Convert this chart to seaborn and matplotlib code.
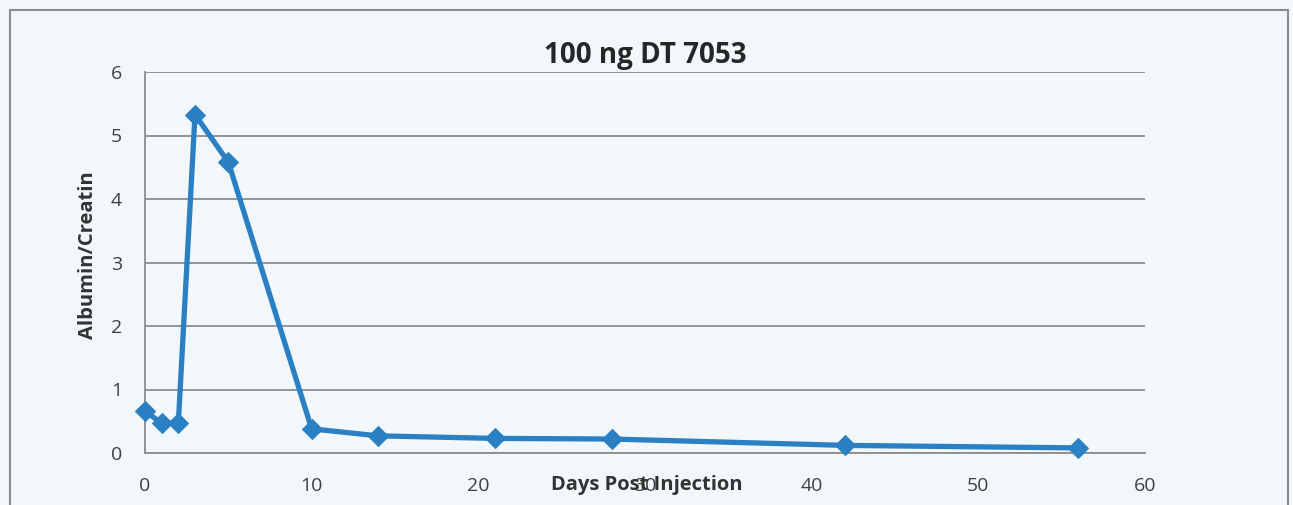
import pandas as pd
import matplotlib.pyplot as plt
import matplotlib.patches as mpatches
import seaborn as sns

# Data
days = [0, 1, 2, 3, 5, 10, 14, 21, 28, 42, 56]
ratio = [0.66, 0.47, 0.47, 5.33, 4.58, 0.38, 0.27, 0.23, 0.22, 0.12, 0.08]
x_ticks = [0, 10, 20, 30, 40, 50, 60]
y_ticks = [0, 1, 2, 3, 4, 5, 6]

df = pd.DataFrame({'Days': days, 'Ratio': ratio})

sns.set_style('white')
plt.rcParams['font.family'] = ['Open Sans', 'DejaVu Sans']

fig = plt.figure(figsize=(12.93, 5.05), dpi=100)
fig.patch.set_facecolor('#f1f7fa')
ax = fig.add_axes([145 / 1293, 52 / 505, 1000 / 1293, 381 / 505])
ax.set_facecolor('none')

sns.lineplot(x='Days', y='Ratio', data=df, ax=ax, color='#2b80c3',
             linewidth=3.8, marker='D', markersize=10, markeredgecolor='#2b80c3',
             clip_on=False, zorder=5)

ax.set_xlim(0, 60)
ax.set_ylim(0, 6)
ax.set_xticks(x_ticks)
ax.set_yticks(y_ticks)
ax.yaxis.grid(True, color='#8c8c8c', linewidth=1.3)
ax.set_axisbelow(True)

for s in ['top', 'right']:
    ax.spines[s].set_visible(False)
for s in ['left', 'bottom']:
    ax.spines[s].set_color('#8c8c8c')
    ax.spines[s].set_linewidth(1.3)

ax.tick_params(axis='both', labelsize=14, colors='#404040', length=5.5,
               width=1.3, direction='out')
ax.tick_params(axis='x', color='#8c8c8c', pad=12)
ax.tick_params(axis='y', color='#8c8c8c', pad=11)

ax.set_title('100 ng DT 7053', fontsize=20, fontweight='bold', color='#262626', pad=6.5)
ax.set_xlabel('Days Post Injection', fontsize=14.5, fontweight='bold', color='#333333')
ax.set_ylabel('Albumin/Creatin', fontsize=14.5, fontweight='bold', color='#333333')
ax.xaxis.label.set_va('center')
ax.yaxis.label.set_va('center')
ax.xaxis.set_label_coords(0.502, -0.084)
ax.yaxis.set_label_coords(-0.057, 0.52)

# outer chart border
fig.patches.append(mpatches.Rectangle((10 / 1293, -0.01), 1278 / 1293, 1 - 10 / 505 + 0.01,
                                      transform=fig.transFigure, fill=False,
                                      edgecolor='#8c8c8c', linewidth=1.5))

fig.savefig('out.png', dpi=100, facecolor=fig.get_facecolor())
